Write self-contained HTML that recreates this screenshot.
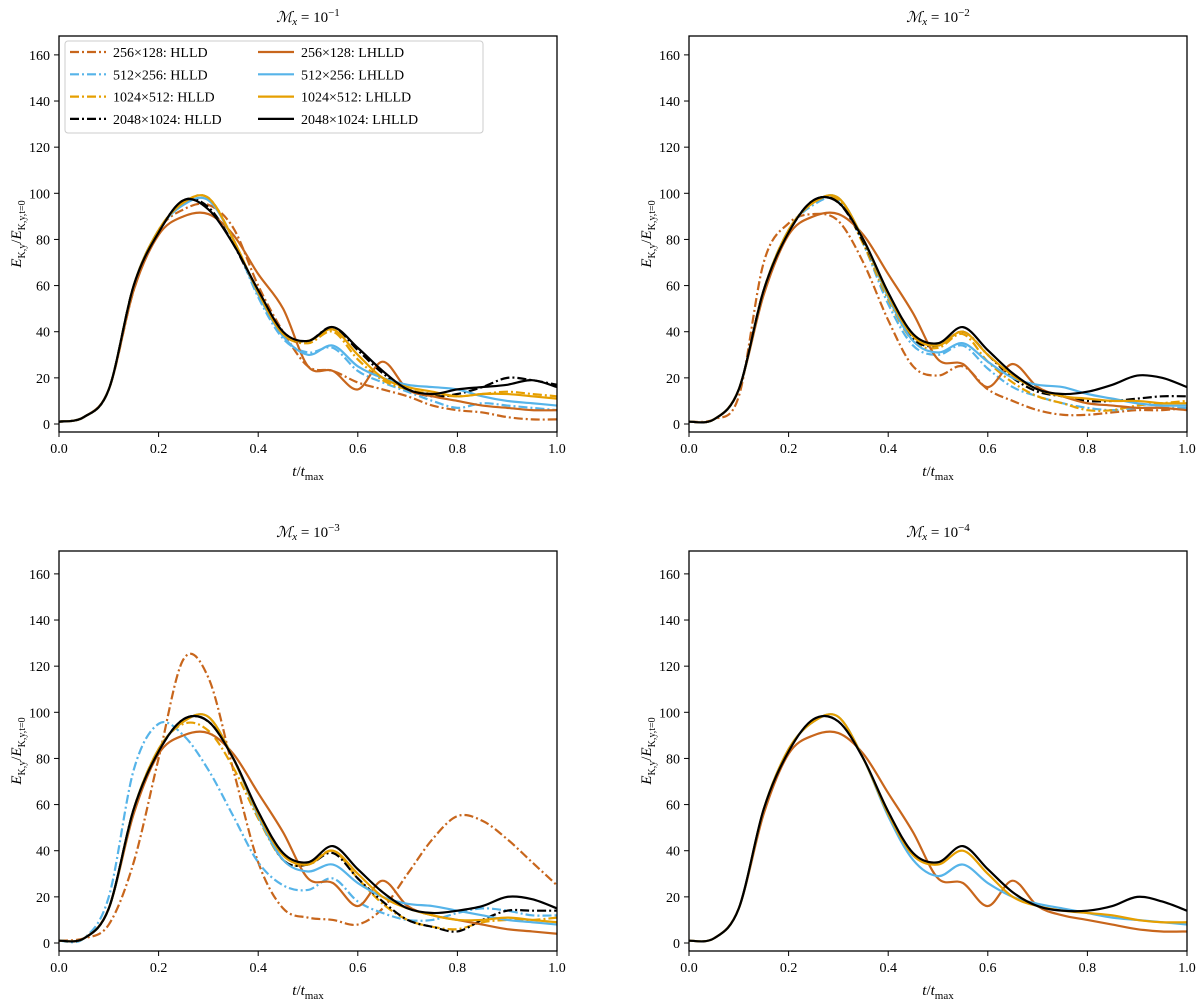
<!DOCTYPE html>
<html><head><meta charset="utf-8"><style>
body{margin:0;background:#fff;}
svg text{font-family:"Liberation Serif",serif;fill:#000;}
</style></head><body>
<svg id="chart" width="1200" height="1002" xmlns="http://www.w3.org/2000/svg"></svg>
<script>
const tVals=[0,0.05,0.1,0.15,0.2,0.25,0.3,0.35,0.4,0.45,0.5,0.55,0.6,0.65,0.7,0.75,0.8,0.85,0.9,0.95,1.0];
const yTicks=[0,20,40,60,80,100,120,140,160];
const xTicks=[0,0.2,0.4,0.6,0.8,1.0];
const seriesNames=["256×128: HLLD","512×256: HLLD","1024×512: HLLD","2048×1024: HLLD","256×128: LHLLD","512×256: LHLLD","1024×512: LHLLD","2048×1024: LHLLD"];
const panelTitles=["−1","−2","−3","−4"];
// Panel 1
const p1_o_dd=[1,3,15,58,84,93,95,85,60,40,25,23,18,15,12,8,6,5,3,2,2];
const p1_b_dd=[1,3,15,60,84,96,98,80,55,37,31,33,23,18,14,10,7,9,8,7,6];
const p1_y_dd=[1,3,15,60,84,96,98,80,57,39,35,40,28,19,15,13,12,13,14,13,12];
const p1_k_dd=[1,3,15,60,83,97,94,78,57,39,36,42,32,22,15,12,13,16,20,19,17];
const p1_o_s=[1,3,15,58,82,90,91,82,65,50,25,23,15,27,15,12,10,8,7,6,6];
const p1_b_s=[1,3,15,60,84,95,97,80,56,38,30,34,25,20,17,16,15,12,10,9,8];
const p1_y_s=[1,3,15,60,84,96,98,80,57,39,36,41,30,20,16,14,12,13,13,12,11];
const p1_k_s=[1,3,15,60,83,97,93,78,58,40,36,42,33,23,15,13,15,16,17,19,16];
// Panel 2
const p2_o_dd=[1,2,12,70,87,91,88,70,45,25,21,25,15,10,6,4,4,5,6,6,7];
const p2_b_dd=[1,2,15,58,84,95,97,78,52,34,30,34,24,16,12,9,7,6,7,7,7];
const p2_y_dd=[1,2,15,58,84,96,97,78,54,36,33,39,27,18,12,9,6,6,8,9,10];
const p2_k_dd=[1,2,15,58,83,97,96,79,56,37,34,40,30,20,14,12,10,10,11,12,12];
const p2_o_s=[1,2,15,56,82,90,91,82,65,48,28,26,16,26,16,12,9,8,7,7,6];
const p2_b_s=[1,2,15,58,84,96,98,80,55,36,31,35,27,20,17,16,13,11,9,8,8];
const p2_y_s=[1,2,15,58,84,96,98,80,56,38,34,40,30,21,15,12,11,10,10,9,9];
const p2_k_s=[1,2,15,58,83,97,96,80,57,39,35,42,32,22,15,13,14,17,21,20,16];
// Panel 3
const p3_o_dd=[1,2,8,35,80,123,115,75,35,15,11,10,8,15,30,45,55,53,45,35,25];
const p3_b_dd=[1,2,20,75,95,90,75,55,35,25,23,28,18,13,10,10,13,15,14,12,12];
const p3_y_dd=[1,2,15,58,84,95,92,76,54,36,34,40,28,17,10,7,6,9,10,10,11];
const p3_k_dd=[1,2,15,58,83,97,96,80,56,36,34,39,28,18,10,7,5,10,14,14,14];
const p3_o_s=[1,2,15,56,82,90,91,82,65,48,28,26,16,27,16,12,10,8,6,5,4];
const p3_b_s=[1,2,15,58,84,96,98,80,55,36,31,34,26,20,17,16,14,12,10,9,8];
const p3_y_s=[1,2,15,58,84,96,98,80,56,38,34,40,30,20,15,12,10,10,11,10,9];
const p3_k_s=[1,2,15,58,83,97,96,80,57,39,35,42,32,22,15,13,14,16,20,19,15];
// Panel 4
const p4_o_s=[1,2,15,56,82,90,91,82,65,48,28,26,16,27,16,12,10,8,6,5,5];
const p4_b_s=[1,2,15,58,84,96,98,80,55,36,29,34,26,20,17,15,13,11,10,9,8];
const p4_y_s=[1,2,15,58,84,96,98,80,56,38,34,40,30,20,16,14,13,12,10,9,9];
const p4_k_s=[1,2,15,58,83,97,96,80,57,39,35,42,32,22,16,14,14,16,20,18,14];

const colors=["#c8661c","#56b4e9","#e69f00","#000000"];
const panels=[
 {x0:59,x1:557,top:36,bot:432,z:424,dd:[p1_o_dd,p1_b_dd,p1_y_dd,p1_k_dd],s:[p1_o_s,p1_b_s,p1_y_s,p1_k_s]},
 {x0:689,x1:1187,top:36,bot:432,z:424,dd:[p2_o_dd,p2_b_dd,p2_y_dd,p2_k_dd],s:[p2_o_s,p2_b_s,p2_y_s,p2_k_s]},
 {x0:59,x1:557,top:551,bot:951,z:943,dd:[p3_o_dd,p3_b_dd,p3_y_dd,p3_k_dd],s:[p3_o_s,p3_b_s,p3_y_s,p3_k_s]},
 {x0:689,x1:1187,top:551,bot:951,z:943,dd:[],s:[p4_o_s,p4_b_s,p4_y_s,p4_k_s]}
];
const K=2.307;
const NS="http://www.w3.org/2000/svg";
const svg=document.getElementById('chart');
function mk(tag,attrs,parent){const e=document.createElementNS(NS,tag);for(const k in attrs)e.setAttribute(k,attrs[k]);(parent||svg).appendChild(e);return e;}
function smooth(pts){let d=`M${pts[0][0]},${pts[0][1]}`;for(let i=0;i<pts.length-1;i++){const p0=pts[Math.max(0,i-1)],p1=pts[i],p2=pts[i+1],p3=pts[Math.min(pts.length-1,i+2)];const c1=[p1[0]+(p2[0]-p0[0])/6,p1[1]+(p2[1]-p0[1])/6],c2=[p2[0]-(p3[0]-p1[0])/6,p2[1]-(p3[1]-p1[1])/6];d+=`C${c1[0]},${c1[1]} ${c2[0]},${c2[1]} ${p2[0]},${p2[1]}`;}return d;}
panels.forEach((p,pi)=>{
 const xs=v=>p.x0+(p.x1-p.x0)*v, ys=v=>p.z-v*K;
 const g=mk('g',{});
 
 
 const cid='clip'+pi;
 const cp=mk('clipPath',{id:cid},g);mk('rect',{x:p.x0,y:p.top,width:p.x1-p.x0,height:p.bot-p.top},cp);
 const draw=(arr,ci,dash,nm)=>{const path=mk('path',{d:smooth(tVals.map((t,i)=>[xs(t),ys(arr[i])])),fill:'none',stroke:colors[ci],'stroke-width':2.2,'stroke-dasharray':dash?'9,3,2,3':'none','clip-path':`url(#${cid})`},g);
  
  };
 p.dd.forEach((a,i)=>draw(a,i,true,'line-'+seriesNames[i].split(':')[0].replace('×','x')+'-hlld'));
 p.s.forEach((a,i)=>draw(a,i,false,'line-'+seriesNames[i+4].split(':')[0].replace('×','x')+'-lhlld'));
 const box=mk('rect',{x:p.x0,y:p.top,width:p.x1-p.x0,height:p.bot-p.top,fill:'none',stroke:'#000','stroke-width':1.3},g);
 
 
 xTicks.forEach(v=>{mk('line',{x1:xs(v),x2:xs(v),y1:p.bot,y2:p.bot+5,stroke:'#000'},g);
  const t=mk('text',{x:xs(v),y:p.bot+21,'text-anchor':'middle','font-size':14},g);t.textContent=v.toFixed(1);
  
  });
 yTicks.forEach(v=>{mk('line',{x1:p.x0-5,x2:p.x0,y1:ys(v),y2:ys(v),stroke:'#000'},g);
  const t=mk('text',{x:p.x0-9,y:ys(v)+5,'text-anchor':'end','font-size':14},g);t.textContent=v;
  
  });
 const cx=(p.x0+p.x1)/2;
 const tt=mk('text',{x:cx,y:p.top-14,'text-anchor':'middle','font-size':15},g);
 tt.innerHTML=`<tspan font-style="italic">ℳ</tspan><tspan font-style="italic" font-size="11" dy="3">x</tspan><tspan dy="-3"> = 10</tspan><tspan font-size="11" dy="-6">${panelTitles[pi]}</tspan>`;
 
 
 const xl=mk('text',{x:cx,y:p.bot+44,'text-anchor':'middle','font-size':15},g);
 xl.innerHTML=`<tspan font-style="italic">t</tspan>/<tspan font-style="italic">t</tspan><tspan font-size="11" dy="4">max</tspan>`;
 
 
 const ym=(p.top+p.bot)/2;
 const yl=mk('text',{x:0,y:0,'text-anchor':'middle','font-size':15,transform:`translate(${p.x0-38},${ym}) rotate(-90)`},g);
 yl.innerHTML=`<tspan font-style="italic">E</tspan><tspan font-size="10" dy="4">K,y</tspan><tspan dy="-4">/</tspan><tspan font-style="italic">E</tspan><tspan font-size="10" dy="4">K,y,t=0</tspan>`;
 
 
});
// legend
const lg=mk('g',{});


mk('rect',{x:65,y:41,width:418,height:92,rx:3,fill:'#fff',stroke:'#ccc'},lg);
seriesNames.forEach((n,i)=>{const col=i<4?0:1,row=i%4;const lx=col?258:70,ly=52+row*22.3;
 const l=mk('line',{x1:lx,x2:lx+36,y1:ly,y2:ly,stroke:colors[row],'stroke-width':2.2,'stroke-dasharray':col?'none':'9,3,2,3'},lg);
 
 
 const t=mk('text',{x:lx+43,y:ly+5,'font-size':14},lg);t.textContent=n;
 
 });
</script>
</body></html>
